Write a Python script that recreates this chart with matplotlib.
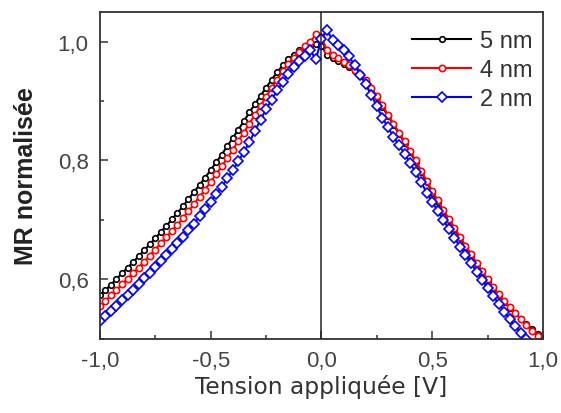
import matplotlib
matplotlib.use("Agg")
from matplotlib import pyplot as plt
from matplotlib.ticker import MultipleLocator, FuncFormatter

# applied voltage (V), step 0.025
tension = [
    -1.000, -0.975, -0.950, -0.925, -0.900, -0.875, -0.850, -0.825, -0.800, -0.775,
    -0.750, -0.725, -0.700, -0.675, -0.650, -0.625, -0.600, -0.575, -0.550, -0.525,
    -0.500, -0.475, -0.450, -0.425, -0.400, -0.375, -0.350, -0.325, -0.300, -0.275,
    -0.250, -0.225, -0.200, -0.175, -0.150, -0.125, -0.100, -0.075, -0.050, -0.025,
    0.000, 0.025, 0.050, 0.075, 0.100, 0.125, 0.150, 0.175, 0.200, 0.225,
    0.250, 0.275, 0.300, 0.325, 0.350, 0.375, 0.400, 0.425, 0.450, 0.475,
    0.500, 0.525, 0.550, 0.575, 0.600, 0.625, 0.650, 0.675, 0.700, 0.725,
    0.750, 0.775, 0.800, 0.825, 0.850, 0.875, 0.900, 0.925, 0.950, 0.975,
    1.000,
]

mr_5nm = [
    0.573, 0.582, 0.591, 0.601, 0.610, 0.620, 0.629, 0.639, 0.649, 0.659,
    0.669, 0.680, 0.690, 0.701, 0.712, 0.723, 0.735, 0.747, 0.759, 0.771,
    0.784, 0.797, 0.810, 0.824, 0.838, 0.852, 0.866, 0.881, 0.895, 0.909,
    0.922, 0.936, 0.948, 0.960, 0.970, 0.978, 0.985, 0.990, 0.993, 0.996,
    0.992, 0.978, 0.972, 0.968, 0.962, 0.957, 0.950, 0.942, 0.933, 0.920,
    0.906, 0.890, 0.875, 0.860, 0.845, 0.830, 0.814, 0.798, 0.781, 0.764,
    0.746, 0.730, 0.715, 0.700, 0.685, 0.670, 0.655, 0.640, 0.626, 0.612,
    0.598, 0.585, 0.573, 0.562, 0.552, 0.543, 0.534, 0.525, 0.516, 0.508,
    0.500,
]

mr_4nm = [
    0.555, 0.564, 0.573, 0.582, 0.592, 0.601, 0.611, 0.620, 0.630, 0.640,
    0.650, 0.661, 0.671, 0.682, 0.692, 0.703, 0.715, 0.727, 0.739, 0.751,
    0.764, 0.777, 0.790, 0.804, 0.818, 0.833, 0.847, 0.862, 0.877, 0.892,
    0.907, 0.922, 0.936, 0.950, 0.962, 0.973, 0.983, 0.992, 1.000, 1.012,
    1.008, 0.985, 0.978, 0.972, 0.966, 0.960, 0.953, 0.945, 0.935, 0.922,
    0.908, 0.893, 0.877, 0.862, 0.847, 0.832, 0.816, 0.800, 0.783, 0.766,
    0.749, 0.733, 0.717, 0.702, 0.687, 0.672, 0.657, 0.643, 0.628, 0.614,
    0.600, 0.587, 0.575, 0.564, 0.553, 0.543, 0.533, 0.523, 0.514, 0.505,
    0.497,
]

mr_2nm = [
    0.530, 0.538, 0.547, 0.556, 0.565, 0.574, 0.583, 0.592, 0.602, 0.611,
    0.621, 0.631, 0.641, 0.651, 0.662, 0.672, 0.683, 0.694, 0.706, 0.718,
    0.730, 0.743, 0.756, 0.770, 0.784, 0.799, 0.814, 0.831, 0.850, 0.868,
    0.886, 0.902, 0.918, 0.932, 0.945, 0.957, 0.967, 0.975, 0.985, 0.970,
    1.005, 1.020, 1.002, 0.995, 0.986, 0.975, 0.960, 0.944, 0.928, 0.910,
    0.891, 0.872, 0.856, 0.840, 0.826, 0.811, 0.796, 0.780, 0.763, 0.746,
    0.730, 0.715, 0.700, 0.685, 0.670, 0.655, 0.641, 0.627, 0.613, 0.599,
    0.585, 0.572, 0.559, 0.546, 0.534, 0.522, 0.510, 0.499, 0.490, 0.482,
    0.475,
]

labels = ["5 nm", "4 nm", "2 nm"]
colors = ["black", "red", "blue"]
markers = ["o", "o", "D"]
msizes = [4.0, 4.5, 5.0]

fig = plt.figure(figsize=(5.61, 4.14), dpi=100)
ax = fig.add_axes([0.178, 0.179, 0.79, 0.79])

for y, lab, c, m, ms in zip([mr_5nm, mr_4nm, mr_2nm], labels, colors, markers, msizes):
    ax.plot(tension, y, color=c, lw=1.5, marker=m, ms=ms, mfc="white",
            mec=c, mew=1.2, label=lab)

ax.axvline(0, color="#222222", lw=1.1, zorder=4)

ax.set_xlim(-1.0, 1.0)
ax.set_ylim(0.5, 1.05)
ax.xaxis.set_major_locator(MultipleLocator(0.5))
ax.xaxis.set_minor_locator(MultipleLocator(0.25))
ax.yaxis.set_major_locator(MultipleLocator(0.2))
ax.yaxis.set_minor_locator(MultipleLocator(0.1))
comma = FuncFormatter(lambda v, p: f"{v:.1f}".replace(".", ","))
ax.xaxis.set_major_formatter(comma)
ax.yaxis.set_major_formatter(comma)

ax.tick_params(which="both", direction="in", top=False, right=False,
               colors="#333333", labelcolor="#444444", width=1.1)
ax.tick_params(which="major", length=6, labelsize=16, pad=8)
ax.tick_params(which="minor", length=3)
for lbl in ax.get_xticklabels() + ax.get_yticklabels():
    lbl.set_family("Liberation Sans")
for s in ax.spines.values():
    s.set_color("#333333")
    s.set_linewidth(1.3)

ax.set_xlabel("Tension appliquée [V]", fontsize=16.8, family="DejaVu Sans",
              color="#333333", labelpad=2)
ax.set_ylabel("MR normalisée", fontsize=18, family="Liberation Sans",
              fontweight="bold", color="#222222", labelpad=14)

leg = ax.legend(loc="upper left", bbox_to_anchor=(0.705, 0.945), frameon=False,
                prop={"family": "Liberation Sans", "size": 17},
                handlelength=2.5, handletextpad=0.35, labelspacing=0.3,
                borderpad=0, borderaxespad=0)
for t in leg.get_texts():
    t.set_color("#333333")

fig.savefig("out.png", dpi=100)
